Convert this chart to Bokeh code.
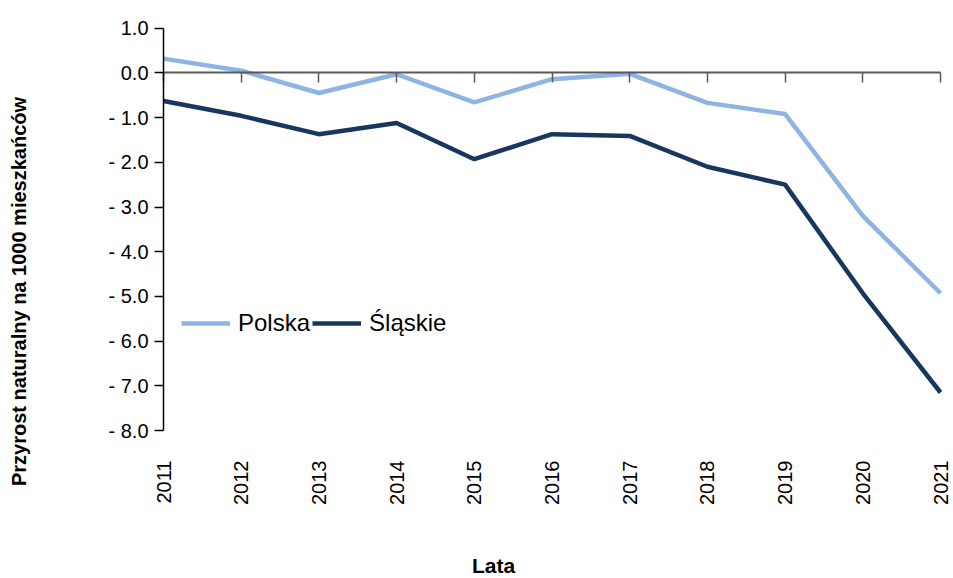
import math
from bokeh.plotting import figure
from bokeh.models import Range1d, FixedTicker, LinearAxis, Label
from bokeh.embed import file_html
from bokeh.resources import INLINE

years = [2011, 2012, 2013, 2014, 2015, 2016, 2017, 2018, 2019, 2020, 2021]
polska = [0.32, 0.05, -0.45, -0.03, -0.66, -0.14, -0.02, -0.67, -0.92, -3.20, -4.93]
slaskie = [-0.63, -0.96, -1.37, -1.12, -1.93, -1.37, -1.41, -2.10, -2.50, -4.93, -7.15]
series_names = ["Polska", "Śląskie"]
y_ticks = [1, 0, -1, -2, -3, -4, -5, -6, -7, -8]
y_tick_labels = ["1.0", "0.0", "- 1.0", "- 2.0", "- 3.0", "- 4.0", "- 5.0", "- 6.0", "- 7.0", "- 8.0"]
y_title = "Przyrost naturalny na 1000 mieszkańców"
x_title = "Lata"

FONT = "Liberation Sans"

# frame covers whole canvas; axes are placed at fixed data locations
p = figure(width=953, height=578, output_backend="svg", toolbar_location=None,
           x_range=Range1d(2008.902, 2021.167), y_range=Range1d(-11.311, 1.62),
           x_axis_location=None, y_axis_location=None,
           min_border_left=0, min_border_right=0, min_border_top=0, min_border_bottom=0)
p.outline_line_color = None
p.grid.visible = False
p.background_fill_color = "white"
p.border_fill_color = "white"

# value axis
ya = LinearAxis(fixed_location=years[0], bounds=(y_ticks[-1], y_ticks[0]),
                ticker=FixedTicker(ticks=y_ticks))
ya.major_label_overrides = {t: l for t, l in zip(y_ticks, y_tick_labels)}
ya.axis_line_color = "black"
ya.axis_line_width = 1.5
ya.major_tick_line_color = "black"
ya.major_tick_line_width = 1.5
ya.major_tick_out = 9
ya.major_tick_in = 0
ya.minor_tick_line_color = None
ya.major_label_standoff = 6
ya.major_label_text_font = FONT
ya.major_label_text_font_size = "20px"
ya.major_label_text_color = "black"
p.add_layout(ya, "left")

# category axis line at zero
za = LinearAxis(fixed_location=0, bounds=(years[0], years[-1]), ticker=FixedTicker(ticks=years))
za.axis_line_color = "#595959"
za.axis_line_width = 2
za.major_tick_line_color = "#595959"
za.major_tick_line_width = 1.5
za.major_tick_out = 10
za.major_tick_in = 0
za.minor_tick_line_color = None
za.major_label_text_alpha = 0
za.major_label_text_font_size = "1px"
p.add_layout(za, "below")

# year labels under the plot area
xa = LinearAxis(fixed_location=y_ticks[-1], bounds=(years[0], years[-1]),
                ticker=FixedTicker(ticks=years))
xa.axis_line_color = None
xa.major_tick_line_color = None
xa.minor_tick_line_color = None
xa.major_tick_out = 0
xa.major_tick_in = 0
xa.major_label_orientation = math.pi / 2
xa.major_label_standoff = 30
xa.major_label_text_font = FONT
xa.major_label_text_font_size = "20px"
xa.major_label_text_color = "black"
p.add_layout(xa, "below")

p.line(years, polska, line_color="#8DB4E2", line_width=4.5, legend_label=series_names[0])
p.line(years, slaskie, line_color="#17375E", line_width=4.5, legend_label=series_names[1])

lg = p.legend[0]
lg.orientation = "horizontal"
lg.location = (181, 241)
lg.glyph_width = 49
lg.glyph_height = 20
lg.label_standoff = 8
lg.spacing = 2
lg.padding = 0
lg.margin = 0
lg.border_line_color = None
lg.background_fill_alpha = 0
lg.label_text_font = FONT
lg.label_text_font_size = "24px"
lg.label_text_color = "black"

p.add_layout(Label(x=2009.134, y=-4.89, text=y_title, angle=math.pi / 2,
                   text_align="center", text_baseline="middle",
                   text_font=FONT, text_font_style="bold", text_font_size="20px",
                   text_color="black"))
p.add_layout(Label(x=2015.247, y=-11.02, text=x_title,
                   text_align="center", text_baseline="middle",
                   text_font=FONT, text_font_style="bold", text_font_size="21px",
                   text_color="black"))

open("out.html", "w").write(file_html(p, INLINE))
